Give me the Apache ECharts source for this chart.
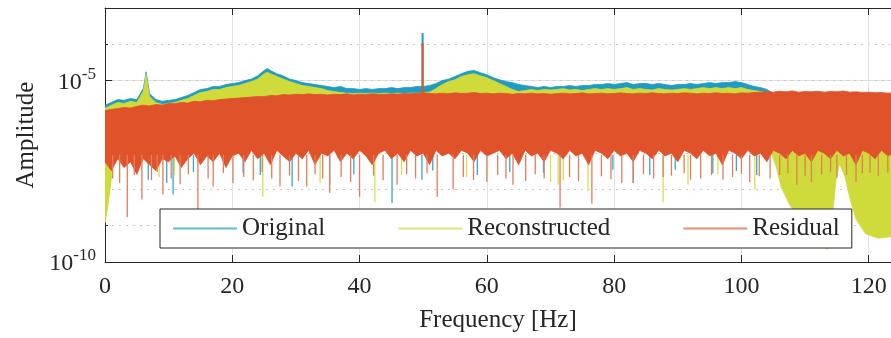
<!DOCTYPE html>
<html>
<head>
<meta charset="utf-8">
<script src="https://cdn.jsdelivr.net/npm/echarts@6/dist/echarts.min.js"></script>
<style>
  html, body { margin: 0; padding: 0; background: #fff; }
  #chart { width: 891px; height: 338px; }
</style>
</head>
<body>
<div id="chart"></div>
<script>
// one value per 1 Hz bin, index = frequency [Hz], 0..125
const origTop = [
  2.1e-6, 2.5e-6, 3.0e-6, 2.85e-6, 3.2e-6, 3.0e-6, 6.0e-6, 4.4e-6, 3.0e-6, 2.7e-6,
  2.85e-6, 3.0e-6, 3.4e-6, 3.9e-6, 4.7e-6, 5.7e-6, 6.0e-6, 6.9e-6, 6.9e-6, 7.8e-6,
  8.3e-6, 8.8e-6, 1.0e-5, 1.1e-5, 1.35e-5, 1.9e-5, 1.9e-5, 1.55e-5, 1.35e-5, 1.1e-5,
  1.0e-5, 8.8e-6, 8.3e-6, 7.8e-6, 7.3e-6, 6.9e-6, 6.4e-6, 6.9e-6, 6.0e-6, 6.0e-6,
  5.7e-6, 6.0e-6, 5.7e-6, 6.0e-6, 6.0e-6, 6.4e-6, 6.0e-6, 6.4e-6, 6.4e-6, 6.9e-6,
  6.9e-6, 7.3e-6, 8.3e-6, 1.0e-5, 1.1e-5, 1.3e-5, 1.55e-5, 1.8e-5, 1.9e-5, 1.65e-5,
  1.45e-5, 1.2e-5, 1.05e-5, 9.4e-6, 8.8e-6, 7.8e-6, 7.3e-6, 6.9e-6, 6.4e-6, 6.9e-6,
  6.4e-6, 6.9e-6, 6.9e-6, 7.3e-6, 6.9e-6, 7.3e-6, 7.3e-6, 7.8e-6, 7.8e-6, 8.3e-6,
  7.8e-6, 8.3e-6, 8.8e-6, 7.8e-6, 8.3e-6, 8.3e-6, 7.8e-6, 8.3e-6, 7.8e-6, 7.3e-6,
  7.8e-6, 7.8e-6, 8.3e-6, 7.8e-6, 8.3e-6, 8.8e-6, 8.3e-6, 8.8e-6, 8.8e-6, 9.4e-6,
  8.8e-6, 7.8e-6, 6.9e-6, 6.4e-6, 5.7e-6,
  4.4e-6, 4.4e-6, 4.4e-6, 4.4e-6, 4.4e-6, 4.4e-6, 4.4e-6, 4.4e-6, 4.4e-6, 4.4e-6,
  4.4e-6, 4.4e-6, 4.4e-6, 4.4e-6, 4.4e-6, 4.4e-6, 4.4e-6, 4.4e-6, 4.4e-6, 4.4e-6, 4.4e-6
]
const origPeaks = [[6.25, 1.0e-5], [6.45, 1.75e-5], [6.7, 9.4e-6], [25.5, 2.15e-5]]
const origBottom = [[0, 1.3e-7], [125, 1.3e-7]]
const origDips = [
  [6.8, 1.85e-8], [9.7, 1.5e-8], [10.7, 7.2e-9], [13.9, 3.0e-8], [21.7, 2.9e-8], [24.4, 2.5e-8],
  [29.4, 1.2e-8], [35.3, 1.35e-8], [39.1, 2.6e-8], [45.1, 4.2e-9], [49.8, 1.85e-8], [51.5, 3.3e-8],
  [58.5, 2.5e-8], [63.6, 3.0e-8], [68.9, 2.9e-8], [79.8, 3.5e-8], [83, 1.5e-8], [85.6, 2.5e-8],
  [89.6, 3.5e-8], [95.5, 2.8e-8], [99.2, 3.2e-8], [102.4, 2.5e-8]
]
const origUps = [[49.9, 2.04e-4]]

const reconTop = [
  1.7e-6, 2.1e-6, 2.5e-6, 2.35e-6, 2.7e-6, 2.5e-6, 5.0e-6, 3.65e-6, 2.5e-6, 2.2e-6,
  2.35e-6, 2.5e-6, 2.85e-6, 3.2e-6, 3.9e-6, 4.7e-6, 5.0e-6, 5.7e-6, 5.7e-6, 6.4e-6,
  6.9e-6, 7.3e-6, 8.3e-6, 9.4e-6, 1.1e-5, 1.55e-5, 1.55e-5, 1.3e-5, 1.1e-5, 9.4e-6,
  8.3e-6, 7.3e-6, 6.9e-6, 6.4e-6, 6.0e-6, 5.3e-6, 5.0e-6, 4.7e-6, 4.5e-6, 4.4e-6,
  4.5e-6, 4.4e-6, 4.5e-6, 4.4e-6, 4.5e-6, 4.4e-6, 4.5e-6, 4.4e-6, 4.5e-6, 4.5e-6,
  4.6e-6, 4.8e-6, 6.0e-6, 7.8e-6, 9.4e-6, 1.05e-5, 1.3e-5, 1.45e-5, 1.55e-5, 1.35e-5,
  1.2e-5, 1.0e-5, 8.3e-6, 6.9e-6, 5.7e-6, 5.0e-6, 5.3e-6, 5.7e-6, 5.3e-6, 5.7e-6,
  5.5e-6, 5.7e-6, 6.0e-6, 5.5e-6, 5.7e-6, 5.3e-6, 5.7e-6, 6.0e-6, 5.7e-6, 6.0e-6,
  5.7e-6, 6.0e-6, 6.4e-6, 5.7e-6, 6.0e-6, 5.7e-6, 5.5e-6, 6.0e-6, 5.7e-6, 5.5e-6,
  5.7e-6, 6.0e-6, 5.7e-6, 6.0e-6, 6.4e-6, 6.0e-6, 6.4e-6, 6.0e-6, 6.4e-6, 6.0e-6,
  6.4e-6, 5.7e-6, 5.3e-6, 5.0e-6, 4.7e-6,
  2.85e-6, 2.85e-6, 2.85e-6, 2.85e-6, 2.85e-6, 2.85e-6, 2.85e-6, 2.85e-6, 2.85e-6, 2.85e-6,
  2.85e-6, 2.85e-6, 2.85e-6, 2.85e-6, 2.85e-6, 2.85e-6, 2.85e-6, 2.85e-6, 2.85e-6, 2.85e-6, 2.85e-6
]
const reconPeaks = [[6.25, 8.3e-6], [6.45, 1.5e-5], [6.7, 7.8e-6], [25.5, 1.7e-5]]
const reconBottom = [
  [0, 1.2e-9], [0.4, 3e-9], [0.8, 1e-8], [1.2, 4e-8], [1.8, 1.3e-7], [104.5, 1.3e-7],
  [105.5, 4e-8], [106.2, 1.2e-8], [107.5, 4e-9], [109, 1.5e-9], [111, 6e-10], [113.5, 2.2e-10],
  [114.3, 2e-9], [114.9, 2e-8], [115.4, 5e-8], [116.2, 2.5e-8], [117, 6e-9], [118, 1.5e-9],
  [119.5, 6e-10], [121.5, 4.5e-10], [123.5, 5e-10], [125, 6e-10]
]
const reconDips = [
  [8.5, 2.2e-8], [10.9, 2.5e-8], [24.8, 6.3e-9], [33.8, 1.5e-8], [42.4, 4.4e-9], [46.6, 2.5e-8],
  [56.8, 2.2e-8], [70, 1.6e-8], [71.2, 1.35e-8], [72, 1.8e-8], [75.9, 9e-9], [87.7, 4.4e-9],
  [91.6, 1.35e-8], [96.3, 2.6e-8], [102.1, 1e-8]
]

const residTop = [
  1.5e-6, 1.6e-6, 1.7e-6, 1.8e-6, 1.75e-6, 1.95e-6, 2.1e-6, 2.0e-6, 2.2e-6, 2.1e-6,
  2.35e-6, 2.3e-6, 2.5e-6, 2.4e-6, 2.7e-6, 2.6e-6, 2.85e-6, 2.8e-6, 3.0e-6, 3.1e-6,
  3.2e-6, 3.3e-6, 3.4e-6, 3.5e-6, 3.65e-6, 3.6e-6, 3.9e-6, 3.8e-6, 4.1e-6, 4.0e-6,
  4.2e-6, 4.1e-6, 4.3e-6, 4.1e-6, 4.2e-6, 4.0e-6, 4.2e-6, 4.1e-6, 4.3e-6, 4.0e-6,
  4.2e-6, 4.1e-6, 4.3e-6, 4.2e-6, 4.1e-6, 4.3e-6, 4.2e-6, 4.4e-6, 4.3e-6, 4.5e-6,
  4.6e-6, 4.4e-6, 4.3e-6, 4.5e-6, 4.3e-6, 4.6e-6, 4.4e-6, 4.5e-6, 4.7e-6, 4.4e-6,
  4.5e-6, 4.3e-6, 4.5e-6, 4.4e-6, 4.2e-6, 4.4e-6, 4.3e-6, 4.5e-6, 4.3e-6, 4.4e-6,
  4.2e-6, 4.4e-6, 4.5e-6, 4.3e-6, 4.4e-6, 4.6e-6, 4.3e-6, 4.4e-6, 4.5e-6, 4.3e-6,
  4.4e-6, 4.6e-6, 4.4e-6, 4.3e-6, 4.5e-6, 4.4e-6, 4.6e-6, 4.4e-6, 4.3e-6, 4.5e-6,
  4.4e-6, 4.6e-6, 4.5e-6, 4.3e-6, 4.5e-6, 4.4e-6, 4.6e-6, 4.4e-6, 4.5e-6, 4.3e-6,
  4.6e-6, 4.5e-6, 4.7e-6, 4.8e-6, 5.0e-6, 4.8e-6, 5.1e-6, 4.9e-6, 5.2e-6, 4.8e-6,
  5.0e-6, 4.9e-6, 5.1e-6, 4.8e-6, 5.0e-6, 4.9e-6, 5.2e-6, 4.8e-6, 4.9e-6, 4.7e-6,
  4.8e-6, 4.6e-6, 4.7e-6, 4.5e-6, 4.6e-6, 4.4e-6
]
const residBottom = [
  5.8e-8, 3.3e-8, 7.0e-8, 4.0e-8, 5.8e-8, 2.6e-8, 7.0e-8, 4.8e-8, 3.3e-8, 7.0e-8, 5.8e-8,
  8.4e-8, 4.0e-8, 7.0e-8, 1.0e-7, 4.8e-8, 8.4e-8, 5.8e-8, 1.0e-7, 4.0e-8, 8.4e-8,
  1.0e-7, 5.8e-8, 1.2e-7, 7.0e-8, 1.0e-7, 4.8e-8, 1.2e-7, 8.4e-8, 5.8e-8, 1.0e-7,
  7.0e-8, 1.2e-7, 4.8e-8, 1.0e-7, 8.4e-8, 1.2e-7, 5.8e-8, 1.0e-7, 7.0e-8, 1.2e-7,
  8.4e-8, 4.8e-8, 1.0e-7, 1.2e-7, 7.0e-8, 1.0e-7, 5.8e-8, 1.2e-7, 8.4e-8, 1.0e-7,
  4.8e-8, 1.2e-7, 8.4e-8, 1.0e-7, 7.0e-8, 1.2e-7, 1.0e-7, 5.8e-8, 1.2e-7, 8.4e-8,
  1.0e-7, 1.2e-7, 7.0e-8, 1.0e-7, 4.8e-8, 1.2e-7, 8.4e-8, 1.0e-7, 5.8e-8, 1.2e-7,
  1.0e-7, 7.0e-8, 1.2e-7, 8.4e-8, 1.0e-7, 4.8e-8, 1.2e-7, 1.0e-7, 7.0e-8, 1.2e-7,
  8.4e-8, 1.0e-7, 5.8e-8, 1.2e-7, 1.0e-7, 7.0e-8, 1.2e-7, 8.4e-8, 1.0e-7, 5.8e-8,
  1.2e-7, 1.0e-7, 7.0e-8, 1.2e-7, 8.4e-8, 1.0e-7, 4.8e-8, 1.2e-7, 1.0e-7, 7.0e-8,
  1.2e-7, 8.4e-8, 1.0e-7, 5.8e-8, 1.2e-7, 1.0e-7, 7.0e-8, 1.2e-7, 8.4e-8, 1.0e-7,
  5.8e-8, 1.2e-7, 1.0e-7, 7.0e-8, 1.2e-7, 8.4e-8, 1.0e-7, 4.8e-8, 1.2e-7, 1.0e-7,
  7.0e-8, 1.2e-7, 8.4e-8, 1.0e-7, 5.8e-8
]
const residDips = [
  [1.2, 2e-8], [2.3, 1.5e-8], [3.5, 1.7e-9], [4.6, 2.5e-8], [5.8, 5.3e-9], [7.3, 1.8e-8],
  [8.2, 3e-8], [9.1, 7.2e-9], [10.4, 2e-8], [11.8, 1.4e-8], [13.1, 2.6e-8], [14.6, 2.8e-9],
  [16.2, 2e-8], [17, 1.2e-8], [18.6, 2.8e-8], [20.1, 1.5e-8], [21.8, 2.2e-8], [23.3, 1.8e-8],
  [24.7, 3e-8], [26.2, 2e-8], [27.5, 1.2e-8], [29, 2.4e-8], [30.4, 1.7e-8], [31.7, 1.2e-8],
  [33, 2.6e-8], [34.2, 2e-8], [35.3, 8.1e-9], [37.1, 2.2e-8], [38.6, 1.6e-8], [40, 6.3e-9],
  [42.2, 2.4e-8], [43.7, 1.8e-8], [45.9, 1.35e-8], [47.4, 2.6e-8], [48.8, 2e-8], [50.6, 2.8e-8],
  [52.2, 6.3e-9], [54.7, 1e-8], [56.3, 2.2e-8], [57.9, 1.8e-8], [60, 1.6e-8], [61.7, 2.5e-8],
  [63, 2e-8], [64.1, 1.35e-8], [66.1, 1.7e-8], [67.6, 2.6e-8], [69, 2e-8], [71.5, 3.2e-9],
  [73, 2.2e-8], [74.4, 1.7e-8], [76.5, 4.0e-9], [78, 2.3e-8], [79.5, 1.9e-8], [81.2, 1.5e-8],
  [83, 1.5e-8], [84.6, 2.6e-8], [86.2, 2e-8], [87.7, 2.2e-8], [89, 2.4e-8], [91, 2.8e-8],
  [92, 1.85e-8], [93.6, 2e-8], [95.3, 2.5e-8], [97.1, 1.85e-8], [98.6, 2.2e-8], [100, 2.7e-8],
  [101.3, 1.6e-8], [102.8, 2.3e-8], [104.5, 2e-8], [106, 2.5e-8], [107.3, 2.8e-8], [108.7, 1.35e-8],
  [110, 2.4e-8], [111, 1.6e-8], [112.6, 2.6e-8], [114, 3e-8], [115, 2.1e-8], [116.5, 2.5e-8],
  [118, 1.6e-8], [119, 2.8e-8], [120.2, 2.9e-8], [121.5, 2.4e-8], [123, 2.9e-8]
]
const residUps = [[49.9, 1.09e-4]]

const xTicks = [0, 20, 40, 60, 80, 100, 120]
const yTickExps = [-10, -5]

const colors = { orig: '#1e9cc3', recon: '#cfdb3a', resid: '#e0522a' }

function pairs (arr) {
  return arr.map((v, i) => [i, v])
}
function withPeaks (arr, peaks) {
  return pairs(arr).concat(peaks).sort((a, b) => a[0] - b[0])
}

function band (top, bottom, dips, ups, color, spikeColor) {
  return function (params, api) {
    const pts = top.map(p => api.coord(p))
      .concat(bottom.slice().reverse().map(p => api.coord(p)))
    const kids = [{
      type: 'polygon',
      shape: { points: pts },
      style: { fill: color, stroke: color, lineWidth: 0.8 }
    }]
    dips.forEach(d => {
      const a = api.coord([d[0], 9e-8])
      const b = api.coord(d)
      kids.push({ type: 'line', shape: { x1: a[0], y1: a[1], x2: b[0], y2: b[1] },
        style: { stroke: spikeColor, lineWidth: 1.3 } })
    })
    ups.forEach(u => {
      const a = api.coord([u[0], 4e-6])
      const b = api.coord(u)
      kids.push({ type: 'line', shape: { x1: a[0], y1: a[1], x2: b[0], y2: b[1] },
        style: { stroke: color, lineWidth: 2 } })
    })
    return { type: 'group', children: kids }
  }
}

const chart = echarts.init(document.getElementById('chart'))
const font = 'Liberation Serif'

const option = {
  animation: false,
  grid: { left: 105, right: 0, top: 8, bottom: 75 },
  legend: {
    left: 160,
    top: 209,
    width: 693,
    padding: [7, 12, 7, 13],
    itemGap: 73,
    itemWidth: 64,
    itemHeight: 2,
    icon: 'rect',
    borderColor: '#262626',
    borderWidth: 1,
    backgroundColor: '#fff',
    textStyle: { fontFamily: font, fontSize: 25, color: '#262626' },
    data: [
      { name: 'Original', itemStyle: { color: '#62bad4' } },
      { name: 'Reconstructed', itemStyle: { color: '#dfe487' } },
      { name: 'Residual', itemStyle: { color: '#e69276' } }
    ]
  },
  xAxis: [{
    type: 'value',
    min: 0,
    max: 123.5,
    interval: 20,
    name: 'Frequency [Hz]',
    nameLocation: 'middle',
    nameGap: 46,
    nameTextStyle: { fontFamily: font, fontSize: 25, color: '#262626' },
    axisLine: { lineStyle: { color: '#262626', width: 1 } },
    axisTick: { inside: true, length: 7, lineStyle: { color: '#262626' } },
    axisLabel: { fontFamily: font, fontSize: 24, color: '#262626', margin: 13,
      showMaxLabel: false,
      formatter: v => xTicks.indexOf(v) >= 0 ? String(v) : '' },
    splitLine: { show: true, lineStyle: { color: '#e2e2e2', width: 1 } }
  }, {
    type: 'value',
    position: 'top',
    min: 0,
    max: 123.5,
    interval: 20,
    axisLine: { lineStyle: { color: '#262626', width: 1 } },
    axisTick: { inside: true, length: 7, lineStyle: { color: '#262626' } },
    axisLabel: { show: false },
    splitLine: { show: false }
  }],
  yAxis: [{
    type: 'log',
    logBase: 10,
    min: 1e-10,
    max: 1e-3,
    interval: 5,
    name: 'Amplitude',
    nameLocation: 'middle',
    nameGap: 58,
    nameTextStyle: { fontFamily: font, fontSize: 25, color: '#262626' },
    axisLine: { show: true, lineStyle: { color: '#262626', width: 1 } },
    axisTick: { inside: true, length: 7, lineStyle: { color: '#262626' } },
    axisLabel: {
      margin: 9,
      formatter: v => {
        const e = Math.round(Math.log10(v))
        return yTickExps.indexOf(e) >= 0 ? '{b|10}{s|' + e + '}' : ''
      },
      rich: {
        b: { fontFamily: font, fontSize: 24, color: '#262626', padding: [4, 0, 0, 0] },
        s: { fontFamily: font, fontSize: 17, color: '#262626', padding: [0, 0, 12, 0] }
      }
    },
    splitLine: { show: true, lineStyle: { color: '#e2e2e2', width: 1 } }
  }, {
    type: 'log',
    logBase: 10,
    min: 1e-10,
    max: 1e-3,
    interval: 1,
    position: 'left',
    axisLine: { show: false },
    axisTick: { show: true, inside: true, length: 3, lineStyle: { color: '#262626' } },
    axisLabel: { show: false },
    splitLine: { show: true, lineStyle: { color: '#c9c9c9', type: [2, 5], width: 1 } }
  }],
  series: [
    {
      type: 'custom', name: 'Original', color: colors.orig, silent: true, clip: true,
      data: [[0, 1e-6]],
      renderItem: band(withPeaks(origTop, origPeaks), origBottom, origDips, origUps, colors.orig, '#35a8cc')
    },
    {
      type: 'custom', name: 'Reconstructed', color: colors.recon, silent: true, clip: true,
      data: [[0, 1e-6]],
      renderItem: band(withPeaks(reconTop, reconPeaks), reconBottom, reconDips, [], colors.recon, '#d5e04c')
    },
    {
      type: 'custom', name: 'Residual', color: colors.resid, silent: true, clip: true,
      data: [[0, 1e-6]],
      renderItem: band(pairs(residTop), pairs(residBottom), residDips, residUps, colors.resid, '#e57c5a')
    }
  ]
}

chart.setOption(option)
window.addEventListener('resize', () => chart.resize())
</script>
</body>
</html>
